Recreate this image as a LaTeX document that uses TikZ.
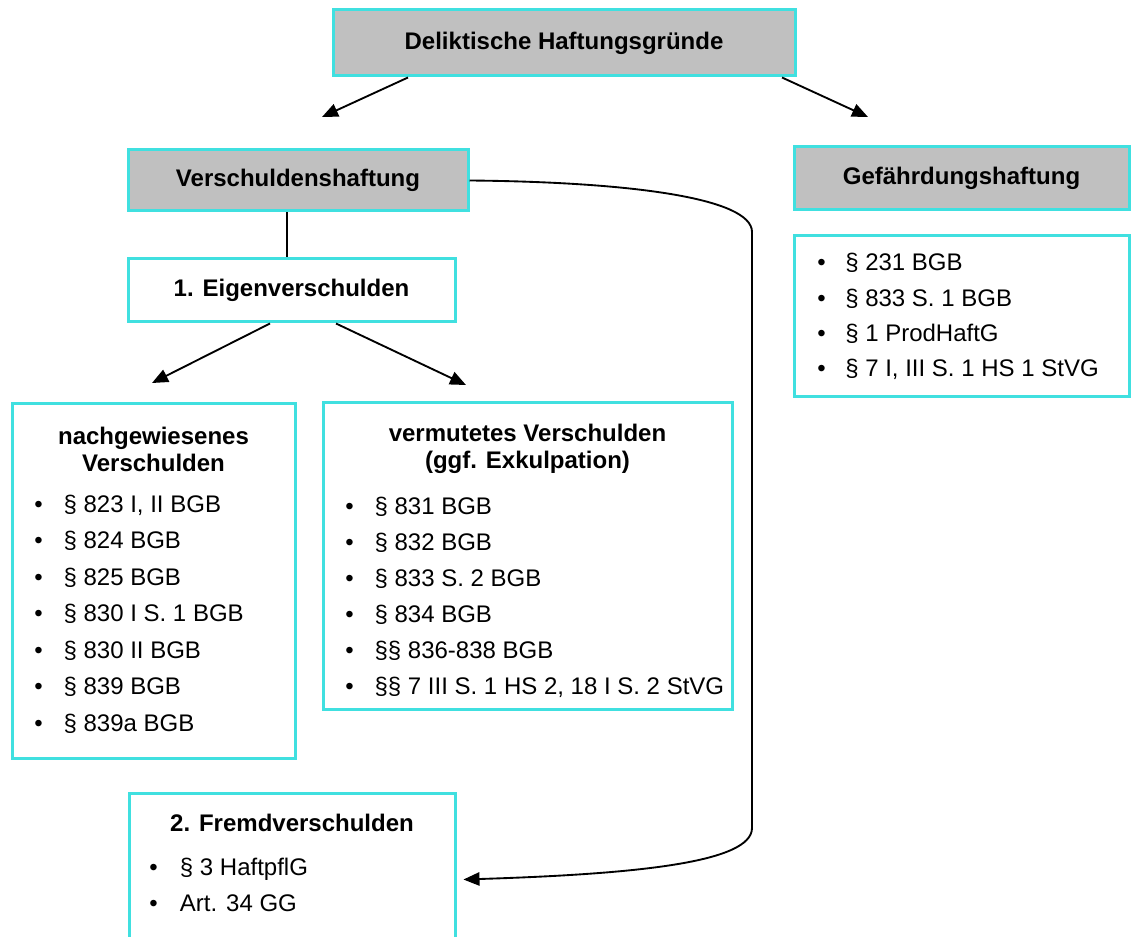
\documentclass[tikz,border=0pt]{standalone}
\usepackage{fontspec}
\setmainfont{Liberation Sans}
\usetikzlibrary{arrows.meta,calc}
\definecolor{rahmen}{RGB}{64,224,224}
\definecolor{kopf}{RGB}{192,192,192}

\begin{document}
\begin{tikzpicture}[x=0.75pt,y=-0.75pt,
    font=\fontsize{18}{20.25}\selectfont,
    box/.style={draw=rahmen, line width=2.25pt, fill=white, inner sep=0pt},
    kopfbox/.style={box, fill=kopf, font=\fontsize{18}{20.25}\selectfont\bfseries},
    titel/.style={align=center, inner sep=0pt, font=\fontsize{18}{20.25}\selectfont\bfseries},
    punkt/.style={anchor=base west, inner sep=0pt},
    pfeil/.style={draw, line width=1.4pt, -{Triangle[length=12pt,width=10pt]}}]

        \useasboundingbox (0,0) rectangle (1131,937);
        \clip (0,0) rectangle (1131,937);

        % Kaesten
        \node[kopfbox, minimum width=346.5pt, minimum height=49.5pt] (root) at (564,43) {Deliktische Haftungsgründe};
        \node[kopfbox, minimum width=255pt, minimum height=45.75pt] (verh) at (298,180.5) {Verschuldenshaftung};
        \node[kopfbox, minimum width=251.25pt, minimum height=47.25pt] (gef) at (961.5,178.5) {Gefährdungshaftung};
        \node[box, minimum width=251.25pt, minimum height=120.75pt] (gefl) at (961.5,316.5) {};
        \node[box, minimum width=245.25pt, minimum height=47.25pt, font=\fontsize{18}{20.25}\selectfont\bfseries] (eigen) at (291.5,290.5) {1. Eigenverschulden};
        \node[box, minimum width=212.25pt, minimum height=265.5pt] (nach) at (153.5,581) {};
        \node[box, minimum width=306.75pt, minimum height=229.5pt] (verm) at (527.5,556) {};
        \node[box, minimum width=244.5pt, minimum height=125.25pt] (fremd) at (292,876.5) {};

        % Ueberschriften
        \node[titel] (nach-t)  at (153.5,449) {nachgewiesenes\\Verschulden};
        \node[titel] (verm-t)  at (527.5,449) {vermutetes Verschulden\\(ggf. Exkulpation)};
        \node[titel] (fremd-t) at (292,823) {2. Fremdverschulden};

        % Listen
        \foreach \t [count=\i] in {{§ 231 BGB},{§ 833 S. 1 BGB},{§ 1 ProdHaftG},{§ 7 I, III S. 1 HS 1 StVG}}
          \node[punkt] (gefl-\i) at (817,{271+35.3*(\i-1)}) {\makebox[21pt][l]{\textbullet}\t};
        \foreach \t [count=\i] in {{§ 823 I, II BGB},{§ 824 BGB},{§ 825 BGB},{§ 830 I S. 1 BGB},{§ 830 II BGB},{§ 839 BGB},{§ 839a BGB}}
          \node[punkt] (nach-\i) at (34,{512+36.5*(\i-1)}) {\makebox[22pt][l]{\textbullet}\t};
        \foreach \t [count=\i] in {{§ 831 BGB},{§ 832 BGB},{§ 833 S. 2 BGB},{§ 834 BGB},{§§ 836-838 BGB},{§§ 7 III S. 1 HS 2, 18 I S. 2 StVG}}
          \node[punkt] (verm-\i) at (345,{514+36*(\i-1)}) {\makebox[22pt][l]{\textbullet}\t};
        \foreach \t [count=\i] in {{§ 3 HaftpflG},{Art. 34 GG}}
          \node[punkt] (fremd-\i) at (149,{875+36*(\i-1)}) {\makebox[23pt][l]{\textbullet}\t};

        % Verbindungen
        \coordinate (zielL) at (322,117);
        \coordinate (zielR) at (868,117);
        \coordinate (zielN) at (152,383);
        \coordinate (zielV) at (466,385);

        \path[pfeil] ($(root.south)+(-156,0)$) -- (zielL);
        \path[pfeil] ($(root.south)+(218,0)$) -- (zielR);
        \draw[line width=1.4pt] ($(verh.south)+(-11,0)$) -- ($(eigen.north)+(-4.5,0)$);
        \path[pfeil] ($(eigen.south)+(-21.5,0)$) -- (zielN);
        \path[pfeil] ($(eigen.south)+(44.5,0)$) -- (zielV);
        \path[pfeil] (verh.east) .. controls (630,182) and (752,198) .. (752,232)
          -- (752,828) .. controls (752,862) and (640,874) .. ($(fremd.east)+(7,3)$);

\end{tikzpicture}
\end{document}
